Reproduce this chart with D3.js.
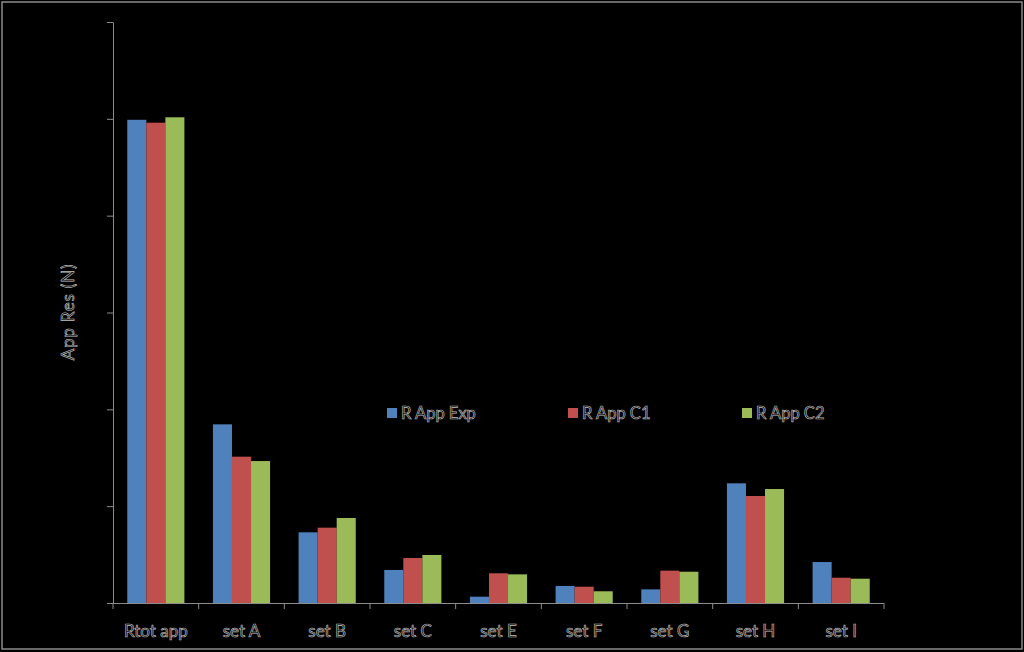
<!DOCTYPE html>
<html><head><meta charset="utf-8">
<script src="https://cdn.jsdelivr.net/npm/d3@7"></script>
<style>html,body{margin:0;padding:0;background:#000;}svg{display:block;}</style>
</head><body>
<script>
const categories = ["Rtot app","set A","set B","set C","set E","set F","set G","set H","set I"];
const seriesNames = ["R App Exp","R App C1","R App C2"];
const rAppExp = [49.9, 18.45, 7.3, 3.41, 0.65, 1.76, 1.41, 12.36, 4.23];
const rAppC1  = [49.6, 15.11, 7.78, 4.65, 3.07, 1.68, 3.34, 11.05, 2.61];
const rAppC2  = [50.16, 14.66, 8.78, 4.96, 2.96, 1.21, 3.23, 11.77, 2.51];
const yTicks = [0,10,20,30,40,50,60];
const colors = ["#4F81BD","#C0504D","#9BBB59"];

const W=1024,H=652;
const svg=d3.select("body").append("svg").attr("width",W).attr("height",H);
svg.append("rect").attr("width",W).attr("height",H).attr("fill","#000");
svg.append("rect").attr("x",2).attr("y",2).attr("width",1020).attr("height",647)
  .attr("fill","none").attr("stroke","#8a8a8a").attr("stroke-width",1.5);

const x0=113,x1=884,yBase=603,yTop=22;
const x=d3.scaleBand().domain(categories).range([x0,x1]).paddingInner(0.333).paddingOuter(0.1665);
const y=d3.scaleLinear().domain([0,60]).range([yBase,yTop]);
const xs=d3.scaleBand().domain(seriesNames).range([0,x.bandwidth()]);
const series=[rAppExp,rAppC1,rAppC2];

const textStyle=s=>s.attr("fill","#050505").attr("stroke","#c0c0c0").attr("stroke-width",0.65)
  .attr("font-family","Lato, 'Open Sans', sans-serif");

// bars
series.forEach((vals,si)=>{
  svg.append("g").selectAll("rect").data(vals).join("rect")
    .attr("x",(d,i)=>x(categories[i])+xs(seriesNames[si]))
    .attr("width",xs.bandwidth())
    .attr("y",d=>y(d))
    .attr("height",d=>yBase-y(d))
    .attr("fill",colors[si]);
});

// y axis
const gy=svg.append("g").attr("transform",`translate(${x0},0)`)
  .call(d3.axisLeft(y).tickValues(yTicks).tickSize(6).tickSizeOuter(0));
gy.select(".domain").attr("stroke","#8c8c8c");
gy.selectAll(".tick line").attr("stroke","#8c8c8c");
gy.selectAll(".tick text").attr("fill","#000").attr("font-size",13).attr("font-family","Lato, sans-serif");

// x axis
const gx=svg.append("g").attr("transform",`translate(0,${yBase})`)
  .call(d3.axisBottom(x).tickSize(0).tickSizeOuter(0).tickPadding(22));
gx.select(".domain").attr("stroke","#8c8c8c").attr("d",`M${x0},0.5H${x1}`);
gx.selectAll(".tick text").attr("font-size",17).call(textStyle);
// category separator ticks
const bounds=d3.range(categories.length+1).map(i=>x0+i*(x1-x0)/categories.length);
svg.append("g").selectAll("line").data(bounds).join("line")
  .attr("x1",d=>d).attr("x2",d=>d).attr("y1",yBase).attr("y2",yBase+6)
  .attr("stroke","#8c8c8c");

// y title
svg.append("text").attr("transform","translate(74,312) rotate(-90)")
  .attr("text-anchor","middle").attr("font-size",17).attr("letter-spacing",0.8).text("App Res (N)").call(textStyle);

// legend
const legX=[387,568,742];
seriesNames.forEach((n,i)=>{
  svg.append("rect").attr("x",legX[i]).attr("y",408).attr("width",10).attr("height",10).attr("fill",colors[i]);
  svg.append("text").attr("x",legX[i]+14).attr("y",419).attr("font-size",16.5).text(n).call(textStyle);
});
</script>
</body></html>
